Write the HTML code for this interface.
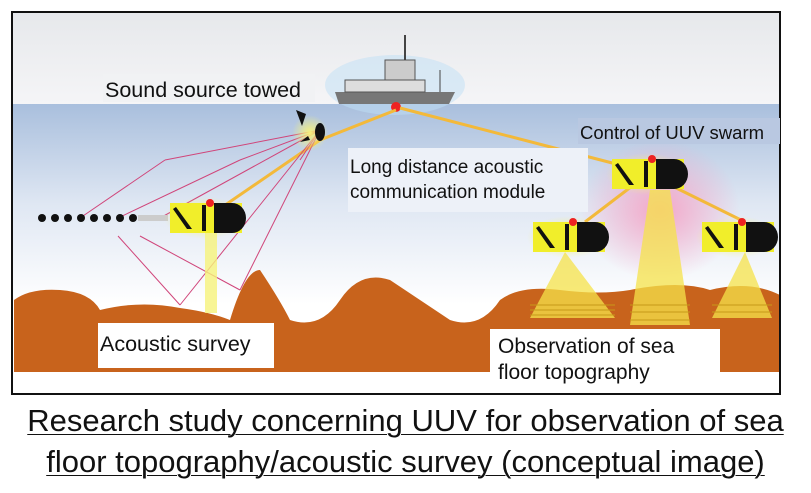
<!DOCTYPE html>
<html><head><meta charset="utf-8"><style>
body{margin:0;width:811px;height:493px;background:#fff;overflow:hidden;font-family:"Liberation Sans",sans-serif}
.cap{position:absolute;left:0;width:811px;text-align:center;font-size:31px;text-decoration:underline;color:#111;text-decoration-thickness:1px;text-underline-offset:3px;white-space:nowrap}
</style></head><body>
<svg width="811" height="400" style="position:absolute;left:0;top:0" font-family="Liberation Sans, sans-serif">
<defs>
<linearGradient id="sky" x1="0" y1="0" x2="0" y2="1"><stop offset="0" stop-color="#e6e8eb"/><stop offset="1" stop-color="#f5f5f7"/></linearGradient>
<linearGradient id="sea" x1="0" y1="0" x2="0" y2="1"><stop offset="0" stop-color="#a9bfdd"/><stop offset="0.5" stop-color="#dfe7f3"/><stop offset="1" stop-color="#ffffff"/></linearGradient>
<radialGradient id="pink"><stop offset="0" stop-color="#f4a6c8"/><stop offset="1" stop-color="#f4a6c8" stop-opacity="0"/></radialGradient>
<radialGradient id="glow"><stop offset="0" stop-color="#f6f27a"/><stop offset="1" stop-color="#f6f27a" stop-opacity="0"/></radialGradient>
<g id="uuv"><rect x="-6" y="-6" width="82" height="42" rx="10" fill="url(#glow)"/><rect x="0" y="0" width="72" height="30" fill="#f1ee2a"/><path d="M44 0h18a14 15 0 0 1 0 30h-18z" fill="#111"/><rect x="32" y="2" width="4" height="26" fill="#111"/><path d="M6 4l16 22h-5l-14-20z" fill="#111"/><circle cx="40" cy="0" r="4" fill="#e22"/></g>
</defs>
<rect x="12" y="12" width="768" height="92" fill="url(#sky)"/>
<rect x="12" y="104" width="768" height="200" fill="url(#sea)"/>
<ellipse cx="660" cy="210" rx="80" ry="70" fill="url(#pink)"/>
<path d="M14 300 Q30 288 60 290 Q90 292 100 310 Q140 300 180 308 Q210 312 230 320 Q245 270 260 270 Q280 300 290 320 Q320 330 340 300 Q360 270 390 280 Q420 300 450 320 Q480 330 500 300 Q520 285 560 290 Q600 295 630 290 Q680 280 710 290 Q750 280 780 295 V372 H14Z" fill="#c8631c"/>
<rect x="14" y="372" width="766" height="22" fill="#fff"/>
<rect x="12" y="12" width="768" height="382" fill="none" stroke="#111" stroke-width="2"/>
<!-- ship -->
<ellipse cx="395" cy="85" rx="70" ry="30" fill="#bfe0f5" opacity="0.5"/>
<path d="M335 92 h120 l-6 12 h-110z" fill="#777"/><rect x="345" y="80" width="80" height="12" fill="#ddd" stroke="#555"/><rect x="385" y="60" width="30" height="20" fill="#ccc" stroke="#555"/><line x1="405" y1="35" x2="405" y2="60" stroke="#444" stroke-width="2"/><line x1="440" y1="70" x2="440" y2="92" stroke="#444"/>
<circle cx="396" cy="107" r="5" fill="#e22"/>
<g stroke="#f3b93a" stroke-width="3" fill="none">
<line x1="396" y1="110" x2="320" y2="140"/><line x1="320" y1="140" x2="215" y2="212"/>
<line x1="400" y1="108" x2="620" y2="165"/><line x1="640" y1="180" x2="585" y2="222"/><line x1="660" y1="180" x2="745" y2="222"/>
</g>
<g stroke="#d0457a" stroke-width="1">
<line x1="320" y1="130" x2="165" y2="160"/><line x1="320" y1="130" x2="240" y2="160"/><line x1="320" y1="130" x2="160" y2="218"/><line x1="320" y1="130" x2="180" y2="305"/><line x1="320" y1="130" x2="240" y2="290"/><line x1="320" y1="130" x2="300" y2="160"/>
<line x1="165" y1="160" x2="80" y2="218"/><line x1="240" y1="160" x2="118" y2="218"/><line x1="180" y1="305" x2="118" y2="236"/><line x1="240" y1="290" x2="140" y2="236"/>
</g>
<circle cx="310" cy="133" r="18" fill="url(#glow)"/><ellipse cx="320" cy="132" rx="5" ry="9" fill="#111"/><path d="M296 110l10 4-4 12z M300 142l8-6 2 4z" fill="#111"/>
<g fill="#111"><circle cx="42" cy="218" r="4"/><circle cx="55" cy="218" r="4"/><circle cx="68" cy="218" r="4"/><circle cx="81" cy="218" r="4"/><circle cx="94" cy="218" r="4"/><circle cx="107" cy="218" r="4"/><circle cx="120" cy="218" r="4"/><circle cx="133" cy="218" r="4"/></g>
<rect x="138" y="215" width="30" height="6" fill="#ccc"/>
<use href="#uuv" x="170" y="203"/>
<rect x="205" y="233" width="12" height="80" fill="#f6f27a" opacity="0.8"/>
<use href="#uuv" x="612" y="159"/>
<use href="#uuv" x="533" y="222"/>
<use href="#uuv" x="702" y="222"/>
<g fill="#f6e34a" opacity="0.75">
<path d="M565 252 L530 318 H615 Z"/><path d="M650 190 L630 325 H690 L670 190Z"/><path d="M745 252 L712 318 H772 Z"/>
</g>
<g stroke="#c79a18" stroke-width="1"><path d="M530 305h85M530 310h85M530 315h85M630 305h60M630 312h60M630 320h60M712 305h60M712 312h60"/></g>
<rect x="103" y="74" width="212" height="28" fill="#f1f2f4"/>
<text x="105" y="97" font-size="21.5" fill="#111">Sound source towed</text>
<rect x="348" y="148" width="240" height="64" fill="#edf1f8"/>
<text x="350" y="173" font-size="19" fill="#111">Long distance acoustic</text>
<text x="350" y="198" font-size="19" fill="#111">communication module</text>
<rect x="578" y="118" width="202" height="26" fill="#b9c8e1"/>
<text x="580" y="139" font-size="18.5" fill="#111">Control of UUV swarm</text>
<rect x="98" y="323" width="176" height="45" fill="#fff"/>
<text x="100" y="351" font-size="21.5" fill="#111">Acoustic survey</text>
<rect x="490" y="329" width="230" height="62" fill="#fff"/>
<text x="498" y="353" font-size="21" fill="#111">Observation of sea</text>
<text x="498" y="379" font-size="21" fill="#111">floor topography</text>
</svg>
<div class="cap" style="top:403px">Research study concerning UUV for observation of sea</div>
<div class="cap" style="top:444px">floor topography/acoustic survey (conceptual image)</div>
</body></html>
